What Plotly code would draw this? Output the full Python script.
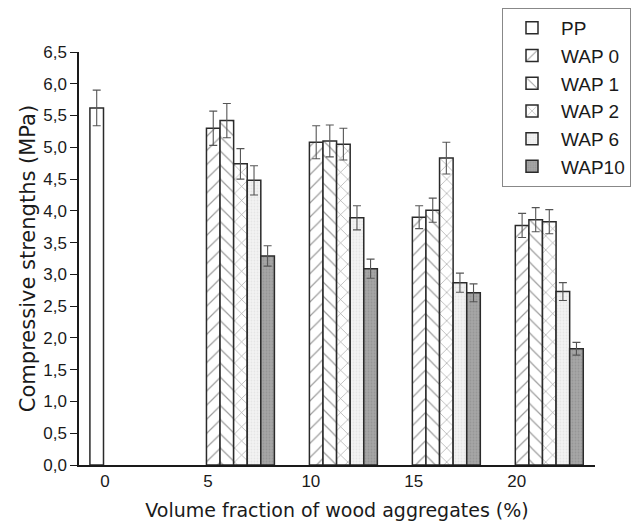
import plotly.graph_objects as go

# ---- data ----
fractions = [0, 5, 10, 15, 20]
series_names = ["PP", "WAP 0", "WAP 1", "WAP 2", "WAP 6", "WAP10"]
pp_x = [0]
pp_vals = [5.62]
pp_err = [0.28]
wap_x = [5, 10, 15, 20]
wap0_vals = [5.30, 5.08, 3.90, 3.77]
wap0_err = [0.27, 0.26, 0.18, 0.19]
wap1_vals = [5.42, 5.10, 4.01, 3.86]
wap1_err = [0.27, 0.25, 0.19, 0.19]
wap2_vals = [4.74, 5.05, 4.83, 3.83]
wap2_err = [0.24, 0.25, 0.25, 0.19]
wap6_vals = [4.48, 3.89, 2.87, 2.73]
wap6_err = [0.23, 0.19, 0.15, 0.14]
wap10_vals = [3.29, 3.09, 2.71, 1.83]
wap10_err = [0.16, 0.15, 0.14, 0.10]
y_ticks = [0.0, 0.5, 1.0, 1.5, 2.0, 2.5, 3.0, 3.5, 4.0, 4.5, 5.0, 5.5, 6.0, 6.5]

# ---- styles ----
W = 0.66
SHIFT = -0.07
edge = "#2a2a2a"
hatch = "#3a3a3a"
styles = [
    dict(color="white", pattern=None),
    dict(color="white", pattern=dict(shape="/", fgcolor=hatch, bgcolor="white", size=10, solidity=0.12)),
    dict(color="white", pattern=dict(shape="\\", fgcolor=hatch, bgcolor="white", size=10, solidity=0.12)),
    dict(color="white", pattern=dict(shape="x", fgcolor=hatch, bgcolor="white", size=10, solidity=0.12)),
    dict(color="#eeeeee", pattern=dict(shape=".", fgcolor="#d8d8d8", bgcolor="#f3f3f3", size=3, solidity=0.3)),
    dict(color="#9a9a9a", pattern=dict(shape=".", fgcolor="#858585", bgcolor="#a6a6a6", size=3, solidity=0.3)),
]

data = [
    (pp_x, pp_vals, pp_err),
    (wap_x, wap0_vals, wap0_err),
    (wap_x, wap1_vals, wap1_err),
    (wap_x, wap2_vals, wap2_err),
    (wap_x, wap6_vals, wap6_err),
    (wap_x, wap10_vals, wap10_err),
]

fig = go.Figure()
for k, (name, (xs, ys, es), st) in enumerate(zip(series_names, data, styles)):
    marker = dict(color=st["color"], line=dict(color=edge, width=1.5))
    if st["pattern"] is not None:
        marker["pattern"] = st["pattern"]
    fig.add_trace(go.Bar(
        x=xs, y=ys, name=name,
        width=W, offset=(k - 1) * W + SHIFT,
        marker=marker,
        error_y=dict(type="data", array=es, visible=True, color="#555555", thickness=1.1, width=4),
    ))

# page body adds an 8px offset; figure is sized to fill the rest of the window
FW, FH = 634, 517
fig.update_layout(
    width=FW, height=FH,
    margin=dict(l=71, r=47, t=44, b=60, autoexpand=False),
    paper_bgcolor="white", plot_bgcolor="white",
    separators=",.",
    barmode="overlay",
    font=dict(family="Liberation Sans, Arial, sans-serif", color="#1a1a1a"),
    showlegend=True,
    legend=dict(
        xref="container", yref="container",
        x=494 / FW, y=1.0, xanchor="left", yanchor="top",
        font=dict(size=19, color="#1a1a1a"),
        bordercolor="#888888", borderwidth=1, bgcolor="white",
        tracegroupgap=0, itemwidth=48,
        entrywidth=75, entrywidthmode="pixels",
    ),
)
fig.update_xaxes(
    range=[-1.26, 23.8], tickvals=fractions, ticktext=[str(f) for f in fractions],
    ticks="", showline=True, linecolor="#1a1a1a", linewidth=1.5,
    showgrid=False, zeroline=False, automargin=False,
    tickfont=dict(size=17),
    title=dict(text="Volume fraction of wood aggregates (%)",
               font=dict(size=19, family="DejaVu Sans, sans-serif"), standoff=14),
)
fig.update_yaxes(
    range=[0, 6.5], tickvals=y_ticks, tickformat=".1f",
    ticks="outside", ticklen=7, tickwidth=1.2, tickcolor="#1a1a1a",
    showline=True, linecolor="#1a1a1a", linewidth=1.5,
    showgrid=False, zeroline=False, automargin=False,
    tickfont=dict(size=17),
    title=dict(text="Compressive strengths (MPa)",
               font=dict(size=21, family="DejaVu Sans, sans-serif"), standoff=2),
)

fig.write_html("out.html")
